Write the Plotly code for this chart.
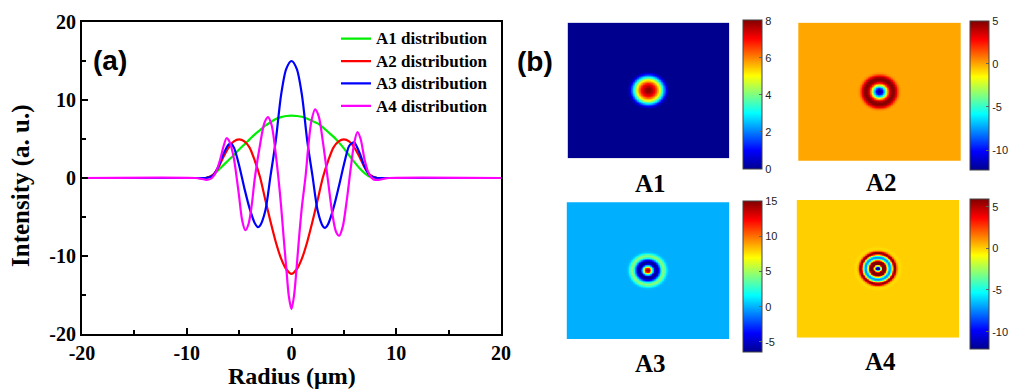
import numpy as np
import plotly.graph_objects as go

W, H = 1010, 390

# ---------------- data ----------------
a1_x = [-20, -9, -8.2, -7.5, -7, -6.5, -6, -5.5, -5, -4.5, -4, -3.5, -3, -2.5, -2, -1.5, -1, -0.5, 0,
        0.5, 1, 1.5, 2, 2.5, 3, 3.5, 4, 4.5, 5, 5.5, 6, 6.5, 7, 7.5, 8.2, 9, 20]
a1_y = [0, 0, 0, 0.35, 1.0, 1.65, 2.3, 2.95, 3.65, 4.3, 4.95, 5.6, 6.15, 6.7, 7.15, 7.55, 7.8, 7.95, 8.0,
        7.95, 7.85, 7.6, 7.3, 7.0, 6.5, 5.9, 5.3, 4.6, 3.8, 2.9, 2.05, 1.25, 0.6, 0.15, 0, 0, 0]

a2_x = [-20, -9, -8.2, -7.5, -7, -6.5, -6, -5.5, -5, -4.5, -4, -3.5, -3, -2.5, -2, -1.5, -1, -0.5, 0,
        0.5, 1, 1.5, 2, 2.5, 3, 3.5, 4, 4.5, 5, 5.5, 6, 6.5, 7, 7.5, 8.2, 9, 20]
a2_y = [0, 0, 0, 0.4, 1.3, 2.7, 3.9, 4.7, 4.95, 4.7, 3.9, 2.2, 0.1, -2.8, -5.6, -8.2, -10.3, -11.7, -12.3,
        -11.7, -10.3, -8.2, -5.6, -2.8, 0.1, 2.2, 3.9, 4.7, 4.95, 4.7, 3.9, 2.7, 1.3, 0.4, 0, 0, 0]

a3_x = [-20, -9, -8.2, -7.5, -7, -6.5, -6, -5.8, -5.5, -5, -4.5, -4, -3.5, -3.2, -3, -2.5, -2, -1.5, -1, -0.5, 0,
        0.5, 1, 1.5, 2, 2.5, 3, 3.2, 3.5, 4, 4.5, 5, 5.5, 5.8, 6, 6.5, 7, 7.5, 8.2, 9, 20]
a3_y = [0, 0, 0, 0.3, 1.4, 3.1, 4.3, 4.4, 3.9, 1.6, -1.3, -3.9, -5.8, -6.3, -6.1, -4.2, 0.3, 4.8, 10.6, 14.0, 15.0,
        14.0, 10.6, 4.8, 0.3, -4.2, -6.2, -6.4, -5.9, -3.9, -1.2, 1.7, 4.1, 4.5, 4.55, 3.2, 1.4, 0.3, 0, 0, 0]

a4_x = [-20, -9.2, -8.6, -8.1, -7.6, -7.2, -6.8, -6.5, -6.2, -5.9, -5.5, -5.2, -5, -4.7, -4.4, -4.1, -3.8, -3.5,
        -3, -2.6, -2.25, -1.9, -1.5, -1.25, -1, -0.75, -0.5, -0.25, 0,
        0.25, 0.5, 0.75, 1, 1.35, 1.6, 1.9, 2.25, 2.6, 3, 3.5, 3.9, 4.25, 4.55, 4.9, 5.3, 5.65, 6, 6.3,
        6.6, 7, 7.4, 7.8, 8.3, 8.8, 9.3, 20]
a4_y = [0, 0, -0.1, -0.25, 0.0, 0.8, 2.4, 4.0, 5.1, 4.6, 2.5, -0.3, -2.4, -5.5, -6.7, -5.9, -3.5, 0.0,
        4.3, 7.0, 7.8, 6.8, 3.0, 0.0, -3.5, -7.6, -11.5, -15.2, -16.8,
        -15.0, -11.3, -7.2, -3.6, 0.3, 4.0, 7.3, 8.8, 7.9, 4.6, -0.5, -4.6, -6.9, -7.4, -6.2, -2.6, 1.2, 4.6, 5.9,
        5.0, 2.2, 0.5, -0.15, -0.25, -0.1, 0, 0]

series_names = ["A1 distribution", "A2 distribution", "A3 distribution", "A4 distribution"]
series_colors = ["#00EE00", "#FF0000", "#0000FF", "#FF00FF"]
panel_labels = ["A1", "A2", "A3", "A4"]

x_ticks = [-20, -10, 0, 10, 20]
x_ticktext = ["-20", "-10", "0", "10", "20"]
y_ticks = [-20, -10, 0, 10, 20]
y_ticktext = ["-20", "-10", "0", "10", "20"]

# colour-bar ranges and ticks of panel (b)
cb_ranges = [(0, 8.05), (-12.3, 5.0), (-6.4, 15.1), (-12.1, 5.9)]
cb_ticks = [[0, 2, 4, 6, 8], [-10, -5, 0, 5], [-5, 0, 5, 10, 15], [-10, -5, 0, 5]]
cb_ticktext = [["0", "2", "4", "6", "8"], ["-10", "-5", "0", "5"],
               ["-5", "0", "5", "10", "15"], ["-10", "-5", "0", "5"]]

# ---------------- helpers ----------------
def px(x):
    return x / W

def py(y):
    return 1 - y / H

JET = [[0, "#00008F"], [0.125, "#0000FF"], [0.375, "#00FFFF"],
       [0.625, "#FFFF00"], [0.875, "#FF0000"], [1, "#800000"]]

fig = go.Figure()

for xs, ys, name, col in zip([a1_x, a2_x, a3_x, a4_x], [a1_y, a2_y, a3_y, a4_y], series_names, series_colors):
    fig.add_trace(go.Scatter(x=xs, y=ys, name=f'<span style="font-size:17px">{name}</span>', mode="lines",
                             line=dict(color=col, width=2.2, shape="spline", smoothing=0.8),
                             xaxis="x", yaxis="y"))

# ---------------- panel (b): radial maps ----------------
gx = np.linspace(-30, 30, 241)
gy = np.linspace(-28, 28, 225)
GX, GY = np.meshgrid(gx, gy)
R = np.sqrt(GX ** 2 + GY ** 2)

img_boxes = [  # left, right, top, bottom in px
    (567.7, 729.3, 22.7, 158.3),
    (798.3, 960.7, 22.7, 160.7),
    (566.7, 729.3, 202.3, 339.0),
    (796.7, 959.3, 200.0, 337.7),
]
cb_boxes = [  # left x, top y, bottom y
    (742.7, 20.0, 169.0),
    (970.0, 20.7, 170.0),
    (742.7, 200.7, 351.7),
    (970.0, 199.0, 349.3),
]
label_pos = [(650, 183), (881.7, 182.7), (650, 363), (880, 361.7)]

for i, (xs, ys) in enumerate(zip([a1_x, a2_x, a3_x, a4_x], [a1_y, a2_y, a3_y, a4_y])):
    xs = np.array(xs, float)
    ys = np.array(ys, float)
    m = xs >= 0
    Z = np.interp(R, xs[m], ys[m], right=0.0)
    k = i + 2
    cbx, cbt, cbb = cb_boxes[i]
    fig.add_trace(go.Heatmap(
        x=gx, y=gy, z=Z, colorscale=JET, zmin=cb_ranges[i][0], zmax=cb_ranges[i][1],
        xaxis=f"x{k}", yaxis=f"y{k}", showscale=True, hoverinfo="skip",
        colorbar=dict(x=px(cbx), xanchor="left", xpad=0, y=py((cbt + cbb) / 2), yanchor="middle",
                      ypad=0, len=cbb - cbt, lenmode="pixels", thickness=19, thicknessmode="pixels",
                      outlinewidth=1, outlinecolor="#444", tickvals=cb_ticks[i], ticktext=cb_ticktext[i],
                      ticks="inside", ticklen=3, tickcolor="#666",
                      tickfont=dict(family="Liberation Sans", size=11, color="#222"))))
    l, r, t, b = img_boxes[i]
    fig.layout[f"xaxis{k}"] = dict(domain=[px(l), px(r)], visible=False, range=[-30, 30])
    fig.layout[f"yaxis{k}"] = dict(domain=[py(b), py(t)], visible=False, range=[-28, 28])

# ---------------- axes of panel (a) ----------------
tickfont = dict(family="Liberation Serif", size=20, color="black", weight="bold")
fig.update_layout(
    width=W, height=H, margin=dict(l=0, r=0, t=0, b=0, autoexpand=False),
    paper_bgcolor="white", plot_bgcolor="white",
    xaxis=dict(domain=[px(82), px(501)], range=[-20, 20], tickvals=x_ticks, ticktext=x_ticktext,
               ticks="inside", ticklen=6, tickwidth=2, tickcolor="black",
               minor=dict(dtick=5, ticks="inside", ticklen=4, tickwidth=2, tickcolor="black"),
               showline=True, linewidth=2, linecolor="black", mirror=True, automargin=False,
               showgrid=False, zeroline=False, tickfont=tickfont),
    yaxis=dict(domain=[py(334), py(22)], range=[-20, 20], tickvals=y_ticks, ticktext=y_ticktext,
               ticks="inside", ticklen=6, tickwidth=2, tickcolor="black",
               minor=dict(dtick=5, ticks="inside", ticklen=4, tickwidth=2, tickcolor="black"),
               showline=True, linewidth=2, linecolor="black", mirror=True, automargin=False,
               showgrid=False, zeroline=False, tickfont=tickfont),
    legend=dict(x=px(336), y=py(22.5), xanchor="left", yanchor="top", bgcolor="rgba(0,0,0,0)",
                font=dict(family="Liberation Serif", size=14.9, color="black", weight="bold"),
                tracegroupgap=0),
    showlegend=True,
)

annots = [
    dict(text="Radius (μm)", x=px(291.5), y=py(376), font=dict(family="Liberation Serif", size=24, weight="bold")),
    dict(text="Intensity (a. u.)", x=px(21), y=py(186), textangle=-90,
         font=dict(family="Liberation Serif", size=25, weight="bold")),
    dict(text="(a)", x=px(110), y=py(60), font=dict(family="Liberation Sans", size=28, weight="bold")),
    dict(text="(b)", x=px(535), y=py(61), font=dict(family="Liberation Sans", size=28, weight="bold")),
]
for lab, (lx, ly) in zip(panel_labels, label_pos):
    annots.append(dict(text=lab, x=px(lx), y=py(ly), font=dict(family="Liberation Serif", size=25, weight="bold")))
for a in annots:
    a.update(xref="paper", yref="paper", showarrow=False, xanchor="center", yanchor="middle")
    a["font"]["color"] = "black"
fig.update_layout(annotations=annots)

fig.write_html("out.html")
